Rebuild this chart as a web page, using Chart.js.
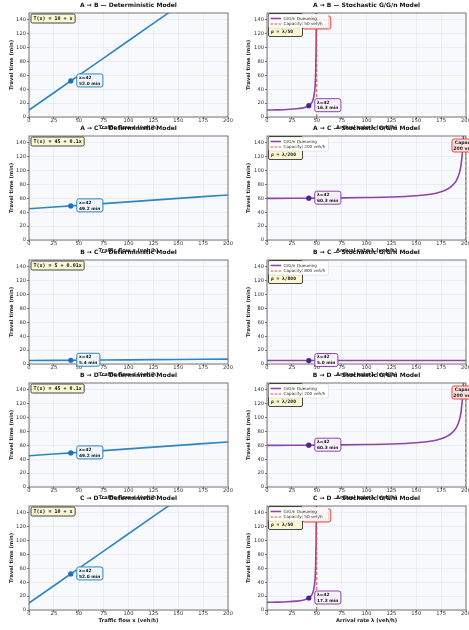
<!DOCTYPE html>
<html>
<head>
<meta charset="utf-8">
<script src="https://cdn.jsdelivr.net/npm/chart.js@4.4.0/dist/chart.umd.min.js"></script>
<style>
  html, body { margin: 0; padding: 0; background: #fff; }
  #wrap { position: relative; width: 469px; height: 630px; overflow: hidden; background: #fff; }
  #wrap canvas { position: absolute; }
</style>
</head>
<body>
<div id="wrap"></div>
<script>
const routes = ['A → B', 'A → C', 'B → C', 'B → D', 'C → D']
const formulas = ['T(x) = 10 + x', 'T(x) = 45 + 0.1x', 'T(x) = 5 + 0.01x', 'T(x) = 45 + 0.1x', 'T(x) = 10 + x']
const capacities = [50, 200, 800, 200, 50]

const xTicks = [0, 25, 50, 75, 100, 125, 150, 175, 200]
const yTicks = [0, 20, 40, 60, 80, 100, 120, 140]

const flowX = [0, 25, 50, 75, 100, 125, 150, 175, 200]
const detTimeAB = [10, 35, 60, 85, 110, 135, 160, 185, 210]
const detTimeAC = [45, 47.5, 50, 52.5, 55, 57.5, 60, 62.5, 65]
const detTimeBC = [5, 5.25, 5.5, 5.75, 6, 6.25, 6.5, 6.75, 7]
const detTimeBD = [45, 47.5, 50, 52.5, 55, 57.5, 60, 62.5, 65]
const detTimeCD = [10, 35, 60, 85, 110, 135, 160, 185, 210]

const lambda50 = [0, 10, 20, 30, 35, 40, 42, 44, 45, 46, 47, 48, 48.5, 49, 49.3, 49.5, 49.7]
const stochTimeAB = [10, 10.3, 10.8, 11.8, 12.8, 14.8, 16.3, 18.8, 20.8, 23.8, 28.8, 38.8, 48.8, 68.8, 94, 129, 198]
const stochTimeCD = [11, 11.3, 11.8, 12.8, 13.8, 15.8, 17.3, 19.8, 21.8, 24.8, 29.8, 39.8, 49.8, 69.8, 95, 130, 199]
const lambda200 = [0, 25, 42, 50, 75, 100, 125, 150, 160, 170, 175, 180, 185, 190, 193, 195, 197, 198, 199]
const stochTimeAC = [60, 60.2, 60.3, 60.4, 60.7, 61.2, 62, 63.8, 65.2, 67.5, 69.6, 72.5, 77, 85, 95, 108, 140, 180, 300]
const stochTimeBD = [60, 60.2, 60.3, 60.4, 60.7, 61.2, 62, 63.8, 65.2, 67.5, 69.6, 72.5, 77, 85, 95, 108, 140, 180, 300]
const lambda800 = [0, 50, 100, 150, 200]
const stochTimeBC = [5, 5, 5.02, 5.05, 5.1]

const currentFlow = 42
const detAtCurrent = [52.0, 49.2, 5.4, 49.2, 52.0]
const stochAtCurrent = [16.3, 60.3, 5.0, 60.3, 17.3]

const detSeries = [detTimeAB, detTimeAC, detTimeBC, detTimeBD, detTimeCD]
const stochLambda = [lambda50, lambda200, lambda800, lambda200, lambda50]
const stochSeries = [stochTimeAB, stochTimeAC, stochTimeBC, stochTimeBD, stochTimeCD]

const FONT = "'DejaVu Sans', sans-serif"
const MONO = "'DejaVu Sans Mono', monospace"
const plotTops = [13, 136, 260, 383, 506]

const toPoints = (xs, ys) => xs.map((v, i) => ({ x: v, y: ys[i] }))

function roundBox(ctx, x, y, w, h, r, fill, stroke, lw) {
    ctx.beginPath()
    ctx.moveTo(x + r, y)
    ctx.arcTo(x + w, y, x + w, y + h, r)
    ctx.arcTo(x + w, y + h, x, y + h, r)
    ctx.arcTo(x, y + h, x, y, r)
    ctx.arcTo(x, y, x + w, y, r)
    ctx.closePath()
    ctx.fillStyle = fill
    ctx.fill()
    if (stroke) {
        ctx.strokeStyle = stroke
        ctx.lineWidth = lw
        ctx.stroke()
    }
}

function overlay(p) {
    return {
        id: 'overlay',
        beforeDraw(chart) {
            const { ctx, chartArea: a } = chart
            ctx.save()
            ctx.fillStyle = '#f8f9fc'
            ctx.fillRect(a.left, a.top, a.width, a.height)
            ctx.restore()
        },
        afterDatasetsDraw(chart) {
            const { ctx, chartArea: a, scales } = chart
            ctx.save()
            ctx.strokeStyle = '#666'
            ctx.lineWidth = 0.9
            ctx.strokeRect(a.left, a.top, a.width, a.height)
            ctx.textBaseline = 'middle'

            // value label next to the current point
            const px = scales.x.getPixelForValue(currentFlow)
            const py = scales.y.getPixelForValue(p.value)
            ctx.font = `bold 4.3px ${FONT}`
            const l1 = p.varName + '=' + currentFlow
            const l2 = p.value.toFixed(1) + ' min'
            const w = Math.max(ctx.measureText(l1).width, ctx.measureText(l2).width) + 5
            roundBox(ctx, px + 6, py - 7, w, 13, 2, p.boxFill, p.color, 1)
            ctx.fillStyle = '#111'
            ctx.textAlign = 'left'
            ctx.fillText(l1, px + 8.3, py - 3.3)
            ctx.fillText(l2, px + 8.3, py + 2.6)

            if (p.formula) {
                ctx.font = `bold 5px ${MONO}`
                const fw = ctx.measureText(p.formula).width + 5
                roundBox(ctx, a.left + 2, a.top + 1, fw, 9, 1.5, '#fbf7d4', '#333', 0.9)
                ctx.fillStyle = '#111'
                ctx.fillText(p.formula, a.left + 4.5, a.top + 5.6)
            } else {
                if (p.cap <= 200) {
                    const cx = scales.x.getPixelForValue(p.cap)
                    roundBox(ctx, cx - 14, a.top + 3, 28, 13, 2, '#fde2e0', '#e74c3c', 1)
                    ctx.font = `bold 4.6px ${FONT}`
                    ctx.fillStyle = '#222'
                    ctx.textAlign = 'center'
                    ctx.fillText('Capacity', cx, a.top + 6.7)
                    ctx.fillText(p.cap + ' veh/h', cx, a.top + 12.3)
                    ctx.textAlign = 'left'
                }
                roundBox(ctx, a.left + 1.5, a.top + 0.5, 34, 23, 1.5, '#fbf7d4', '#333', 0.9)
                ctx.font = `bold 4.6px ${MONO}`
                ctx.fillStyle = '#111'
                ctx.fillText('ρ = λ/' + p.cap, a.left + 4, a.top + 18.5)

                roundBox(ctx, a.left + 1.5, a.top + 1, 60, 14, 1.5, 'rgba(255,255,255,0.9)', 'rgba(0,0,0,0.15)', 0.6)
                ctx.lineWidth = 1.6
                ctx.strokeStyle = p.color
                ctx.beginPath()
                ctx.moveTo(a.left + 3.5, a.top + 5.5)
                ctx.lineTo(a.left + 14, a.top + 5.5)
                ctx.stroke()
                ctx.lineWidth = 1
                ctx.strokeStyle = '#e74c3c'
                ctx.setLineDash([2.5, 1.5])
                ctx.beginPath()
                ctx.moveTo(a.left + 3.5, a.top + 11)
                ctx.lineTo(a.left + 14, a.top + 11)
                ctx.stroke()
                ctx.setLineDash([])
                ctx.font = `4.2px ${FONT}`
                ctx.fillStyle = '#333'
                ctx.fillText('G/G/n Queueing', a.left + 16.5, a.top + 5.6)
                ctx.fillText('Capacity: ' + p.cap + ' veh/h', a.left + 16.5, a.top + 11.1)
            }
            ctx.restore()
        }
    }
}

function axisOptions(min, max, ticks, titleText, isX, colRight) {
    return {
        type: 'linear',
        min: min,
        max: max,
        afterBuildTicks: (s) => { s.ticks = ticks.map(v => ({ value: v })) },
        afterFit: (s) => {
            if (isX) s.height = 16
            else s.width = colRight ? 33 : 29
        },
        grid: { color: 'rgba(0,0,0,0.08)', lineWidth: 0.6, tickLength: 2, tickColor: '#444', tickWidth: 0.7 },
        border: { display: false },
        ticks: {
            font: { family: FONT, size: 5.2 },
            color: '#333',
            padding: isX ? -1 : 1,
            maxRotation: 0,
            autoSkip: false
        },
        title: {
            display: true,
            text: titleText,
            color: '#222',
            font: { family: FONT, size: 5.2, weight: 'bold' },
            padding: isX ? { top: 0, bottom: 2 } : { top: colRight ? 12 : 9, bottom: 0 }
        }
    }
}

function makePanel(row, stochastic) {
    const canvas = document.createElement('canvas')
    const width = stochastic ? 240 : 234
    canvas.width = width
    canvas.height = 133
    canvas.style.left = (stochastic ? 234 : 0) + 'px'
    canvas.style.top = (plotTops[row] - 13) + 'px'
    document.getElementById('wrap').appendChild(canvas)

    const color = stochastic ? '#8e44ad' : '#2e86c1'
    const value = stochastic ? stochAtCurrent[row] : detAtCurrent[row]
    const datasets = [
        {
            data: [{ x: currentFlow, y: value }],
            showLine: false,
            pointRadius: 2.6,
            pointBackgroundColor: stochastic ? '#4a2590' : '#1f6fc1',
            pointBorderWidth: 0,
            order: 0
        },
        {
            data: stochastic ? toPoints(stochLambda[row], stochSeries[row]) : toPoints(flowX, detSeries[row]),
            borderColor: color,
            borderWidth: 1.6,
            pointRadius: 0,
            cubicInterpolationMode: stochastic ? 'monotone' : 'default',
            order: 2
        }
    ]
    if (stochastic) {
        datasets.push({
            data: [{ x: capacities[row], y: 0 }, { x: capacities[row], y: 150 }],
            borderColor: '#e74c3c',
            borderWidth: 1,
            borderDash: [3, 2],
            pointRadius: 0,
            order: 1
        })
    }

    new Chart(canvas, {
        type: 'line',
        data: { datasets: datasets },
        options: {
            responsive: false,
            animation: false,
            events: [],
            layout: { padding: { top: 0, left: 0, bottom: 0, right: stochastic ? 8 : 6 } },
            plugins: {
                legend: { display: false },
                tooltip: { enabled: false },
                title: {
                    display: true,
                    fullSize: false,
                    text: routes[row] + (stochastic ? ' — Stochastic G/G/n Model' : ' — Deterministic Model'),
                    color: '#111',
                    font: { family: FONT, size: 6, weight: 'bold' },
                    padding: { top: 2, bottom: 3.8 }
                }
            },
            scales: {
                x: axisOptions(0, 200, xTicks, stochastic ? 'Arrival rate λ (veh/h)' : 'Traffic flow x (veh/h)', true, stochastic),
                y: axisOptions(0, 150, yTicks, 'Travel time (min)', false, stochastic)
            }
        },
        plugins: [overlay({
            value: value,
            color: color,
            boxFill: stochastic ? '#f8f1fb' : '#eef5fb',
            varName: stochastic ? 'λ' : 'x',
            formula: stochastic ? null : formulas[row],
            cap: capacities[row]
        })]
    })
}

for (let r = 0; r < routes.length; r++) {
    makePanel(r, false)
    makePanel(r, true)
}
</script>
</body>
</html>
